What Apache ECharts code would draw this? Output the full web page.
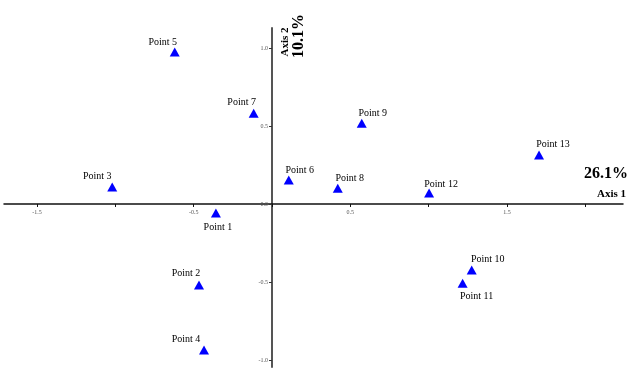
<!DOCTYPE html>
<html>
<head>
<meta charset="utf-8">
<script src="https://cdn.jsdelivr.net/npm/echarts@6/dist/echarts.min.js"></script>
<style>html,body{margin:0;padding:0;background:#fff}#c{width:644px;height:382px}</style>
</head>
<body>
<div id="c"></div>
<script>
// ---- data ----
var pointNames = ['Point 1','Point 2','Point 3','Point 4','Point 5','Point 6','Point 7','Point 8','Point 9','Point 10','Point 11','Point 12','Point 13'];
var axis1Values = [-0.358, -0.466, -1.02, -0.434, -0.621, 0.107, -0.117, 0.42, 0.573, 1.275, 1.217, 1.003, 1.705];
var axis2Values = [-0.058, -0.519, 0.109, -0.936, 0.974, 0.154, 0.581, 0.10, 0.517, -0.423, -0.508, 0.07, 0.314];
var xTicks = [-1.5, -1.0, -0.5, 0.0, 0.5, 1.0, 1.5, 2.0];
var xTickLabels = [-1.5, -0.5, 0.5, 1.5];
var yTicks = [-1.0, -0.5, 0.0, 0.5, 1.0];
var yTickLabels = [-1.0, -0.5, 0.0, 0.5, 1.0];
var axis1Title = 'Axis 1', axis1Pct = '26.1%';
var axis2Title = 'Axis 2', axis2Pct = '10.1%';

// ---- label placement (style) ----
var labelOffsets = [[2,14],[-13,-12],[-15,-11],[-18,-11],[-12,-10],[11,-10],[-12,-11],[12,-10],[11,-10],[16,-11],[14,13],[12,-9],[14,-11]];

var serif = '"Liberation Serif","Times New Roman",serif';
var data = pointNames.map(function(n,i){
  return {
    name: n,
    value: [axis1Values[i], axis2Values[i]],
    label: {offset: labelOffsets[i]}
  };
});

var gridLeft = 4, gridRight = 21, gridTop = 28, gridBottom = 15;
var xMin = -1.711, xMax = 2.241, yMin = -1.045, yMax = 1.128;
var W = 644, H = 382;
var plotW = W - gridLeft - gridRight, plotH = H - gridTop - gridBottom;
// distance from grid edges to the zero lines, so the axes cross at the origin
var xAxisOffset = -(plotH * (0 - yMin) / (yMax - yMin));
var yAxisOffset = -(plotW * (0 - xMin) / (xMax - xMin));

var chart = echarts.init(document.getElementById('c'));
chart.setOption({
  animation: false,
  backgroundColor: '#fff',
  grid: {left: gridLeft, right: gridRight, top: gridTop, bottom: gridBottom, containLabel: false, outerBoundsMode: 'none'},
  xAxis: {
    type: 'value', min: xMin, max: xMax, position: 'bottom', offset: xAxisOffset,
    splitLine: {show: false},
    axisLine: {onZero: false, lineStyle: {color: '#111', width: 1.5}},
    axisTick: {show: true, length: 3, customValues: xTicks, lineStyle: {color: '#111', width: 1}},
    axisLabel: {customValues: xTickLabels, fontSize: 6, color: '#555', fontFamily: serif, margin: 5,
      formatter: function(v){ return (+v).toFixed(1); }}
  },
  yAxis: {
    type: 'value', min: yMin, max: yMax, position: 'left', offset: yAxisOffset,
    splitLine: {show: false},
    axisLine: {onZero: false, lineStyle: {color: '#555', width: 2}},
    axisTick: {show: true, length: 3, customValues: yTicks, lineStyle: {color: '#333', width: 1}},
    axisLabel: {customValues: yTickLabels, fontSize: 6, color: '#555', fontFamily: serif, margin: 4,
      formatter: function(v){ return (+v).toFixed(1); }}
  },
  series: [{
    type: 'scatter',
    symbol: 'triangle',
    symbolSize: [10, 9],
    itemStyle: {color: '#0000ff', opacity: 1},
    label: {
      show: true, position: 'inside', align: 'center', verticalAlign: 'middle',
      formatter: '{b}', color: '#000', fontSize: 10, fontFamily: serif
    },
    data: data
  }],
  graphic: [
    {type: 'text', x: 628, y: 174, style: {text: axis1Pct, font: 'bold 16px ' + serif, fill: '#000', textAlign: 'right', textVerticalAlign: 'middle'}},
    {type: 'text', x: 626, y: 194, style: {text: axis1Title, font: 'bold 11px ' + serif, fill: '#000', textAlign: 'right', textVerticalAlign: 'middle'}},
    {type: 'text', x: 285, y: 42, rotation: Math.PI/2, style: {text: axis2Title, font: 'bold 11px ' + serif, fill: '#000', textAlign: 'center', textVerticalAlign: 'middle'}},
    {type: 'text', x: 299, y: 36, rotation: Math.PI/2, style: {text: axis2Pct, font: 'bold 16px ' + serif, fill: '#000', textAlign: 'center', textVerticalAlign: 'middle'}}
  ]
});
</script>
</body>
</html>
